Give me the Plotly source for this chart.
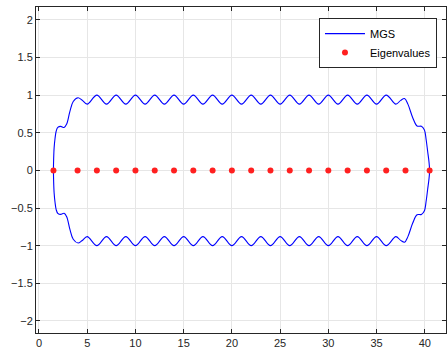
import plotly.graph_objects as go

# Upper half of the MGS boundary curve
upper_x = [1.5, 1.52, 1.57, 1.66, 1.78, 1.95, 2.25, 2.6, 2.87, 3.2, 3.55, 4.05, 4.45,
           5, 6, 7, 8, 9, 10, 11, 12, 13, 14, 15, 16, 17, 18, 19, 20, 21, 22, 23, 24,
           25, 26, 27, 28, 29, 30, 31, 32, 33, 34, 35, 36, 37,
           37.5, 37.9, 38.25, 38.75, 39.2, 39.65, 39.95, 40.15, 40.3, 40.43, 40.5]
upper_y = [0.0, 0.15, 0.30, 0.42, 0.52, 0.57, 0.585, 0.57, 0.615, 0.78, 0.915, 0.965, 0.935,
           0.88, 1.0, 0.88, 1.0, 0.88, 1.0, 0.88, 1.0, 0.88, 1.0, 0.88, 1.0, 0.88, 1.0, 0.88,
           1.0, 0.88, 1.0, 0.88, 1.0, 0.88, 1.0, 0.88, 1.0, 0.88, 1.0, 0.88, 1.0, 0.88, 1.0,
           0.88, 1.0, 0.88,
           0.93, 0.955, 0.88, 0.70, 0.59, 0.585, 0.54, 0.40, 0.25, 0.12, 0.0]
# Lower half is the mirror image of the upper half
lower_y = [-v for v in upper_y]

# Eigenvalues
eig_x = [1.5, 4, 6, 8, 10, 12, 14, 16, 18, 20, 22, 24, 26, 28, 30, 32, 34, 36, 38, 40.5]
eig_y = [0] * len(eig_x)

x_ticks = [0, 5, 10, 15, 20, 25, 30, 35, 40]
y_ticks = [-2, -1.5, -1, -0.5, 0, 0.5, 1, 1.5, 2]

# closed loop: upper left->right, lower right->left (interior points), back to start
loop_x = upper_x + upper_x[-2:0:-1] + [upper_x[0]]
loop_y = upper_y + lower_y[-2:0:-1] + [upper_y[0]]

fig = go.Figure()
fig.add_trace(go.Scatter(
    x=loop_x, y=loop_y, mode="lines", name="MGS",
    line=dict(color="#0000ff", width=1.1, shape="spline", smoothing=1.0),
))
fig.add_trace(go.Scatter(
    x=eig_x, y=eig_y, mode="markers", name="Eigenvalues",
    marker=dict(color="#ff2020", size=6, line=dict(width=0)),
))

axis_common = dict(
    showline=True, linecolor="#262626", linewidth=1, mirror="ticks",
    ticks="inside", ticklen=4, tickcolor="#262626",
    showgrid=True, gridcolor="#e6e6e6", gridwidth=1, zeroline=False,
    tickfont=dict(family="Liberation Sans, Arial, sans-serif", size=11, color="#262626"),
)

fig.update_layout(
    width=447, height=358,
    margin=dict(l=36, r=1, t=7, b=25),
    plot_bgcolor="white", paper_bgcolor="white",
    showlegend=True,
    legend=dict(
        x=0.978, y=0.966, xanchor="right", yanchor="top",
        bgcolor="white", bordercolor="#262626", borderwidth=1,
        font=dict(family="Liberation Sans, Arial, sans-serif", size=11, color="#000000"),
        tracegroupgap=0, itemwidth=40,
    ),
    xaxis=dict(range=[-0.31, 42.2], tickvals=x_ticks, **axis_common),
    yaxis=dict(range=[-2.16, 2.17], tickvals=y_ticks, **axis_common),
)

fig.write_html("out.html")
